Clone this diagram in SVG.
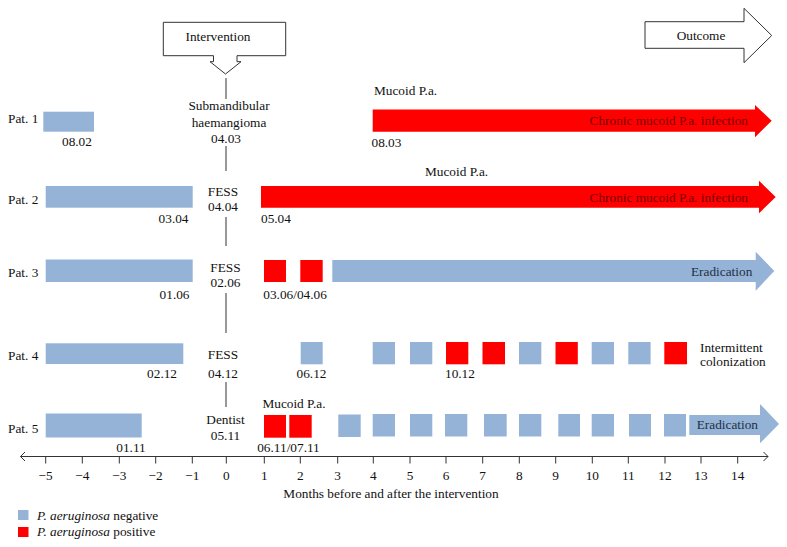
<svg xmlns="http://www.w3.org/2000/svg" width="787" height="547" viewBox="0 0 787 547">
<style>
text{font-family:"Liberation Serif","Times New Roman",serif;font-size:13.3px;fill:#111}
.m{text-anchor:middle}
.e{text-anchor:end}
.neg{fill:#95B3D7}
.pos{fill:#FF0000}
.ln{stroke:#333;stroke-width:1;fill:none}
.out{fill:#fff;stroke:#333;stroke-width:1}
.cr{fill:#7A0000}
.er{fill:#1F2F45}
</style>
<rect width="787" height="547" fill="#fff"/>

<g id="intervention">
<path class="out" d="M163.3,22.3 H285.7 V55.7 H237 V61.7 H241 L225.5,74 L210,61.7 H213.5 V55.7 H163.3 Z"/>
<text class="m" x="218" y="41">Intervention</text>
</g>

<g id="outcome">
<path class="out" d="M645,21.7 H744 V8.3 L771.7,35.5 L744,62.7 V48.3 H645 Z"/>
<text class="m" x="701" y="40">Outcome</text>
</g>

<g id="connectors">
<line class="ln" x1="226" y1="78" x2="226" y2="99"/>
<line class="ln" x1="226" y1="146" x2="226" y2="171"/>
<line class="ln" x1="226" y1="217" x2="226" y2="246"/>
<line class="ln" x1="226" y1="293" x2="226" y2="333"/>
<line class="ln" x1="226" y1="382" x2="226" y2="407"/>
</g>

<g id="pat1">
<text x="8" y="123">Pat. 1</text>
<rect class="neg" x="43.3" y="111.7" width="50.7" height="20"/>
<text x="62" y="146">08.02</text>
<text class="m" x="229" y="110">Submandibular</text>
<text class="m" x="229" y="127">haemangioma</text>
<text class="m" x="226" y="143">04.03</text>
<text x="374" y="95">Mucoid P.a.</text>
<path class="pos" d="M372.7,109.5 H755 V105 L771.7,120.7 L755,137.3 V131.7 H372.7 Z"/>
<text class="e cr" x="748" y="125">Chronic mucoid P.a. infection</text>
<text x="371.5" y="147">08.03</text>
</g>

<g id="pat2">
<text x="8" y="204">Pat. 2</text>
<rect class="neg" x="45.7" y="186" width="147" height="21.7"/>
<text class="e" x="188.5" y="223">03.04</text>
<text class="m" x="223" y="196">FESS</text>
<text class="m" x="223" y="211">04.04</text>
<text x="425" y="176">Mucoid P.a.</text>
<path class="pos" d="M261,186 H759 V180.7 L775.7,197 L759,213.3 V207.7 H261 Z"/>
<text class="e cr" x="748" y="202">Chronic mucoid P.a. infection</text>
<text x="261" y="223">05.04</text>
</g>

<g id="pat3">
<text x="8" y="277">Pat. 3</text>
<rect class="neg" x="45.7" y="259.5" width="147" height="22.5"/>
<text class="e" x="189.5" y="299">01.06</text>
<text class="m" x="225.5" y="272">FESS</text>
<text class="m" x="225.5" y="287">02.06</text>
<rect class="pos" x="264" y="260" width="22" height="22"/>
<rect class="pos" x="300.3" y="260" width="22.4" height="22"/>
<text x="263.3" y="299">03.06/04.06</text>
<path class="neg" d="M332.3,260 H755.7 V251.7 L774.3,271 L755.7,290.7 V282 H332.3 Z"/>
<text class="e er" x="752.3" y="276">Eradication</text>
</g>

<g id="pat4">
<text x="8" y="360">Pat. 4</text>
<rect class="neg" x="45.7" y="343.3" width="137.6" height="20.7"/>
<text class="e" x="177" y="378">02.12</text>
<text class="m" x="223" y="358.5">FESS</text>
<text class="m" x="223" y="378">04.12</text>
<rect class="neg" x="300.7" y="342" width="22" height="22.3"/>
<text class="m" x="311.5" y="378">06.12</text>
<rect class="neg" x="372.7" y="342" width="22.3" height="22.3"/>
<rect class="neg" x="410" y="342" width="22.3" height="22.3"/>
<rect class="pos" x="446" y="342" width="22.3" height="22.3"/>
<rect class="pos" x="482.5" y="342" width="22.5" height="22.3"/>
<rect class="neg" x="519" y="342" width="22.3" height="22.3"/>
<rect class="pos" x="555.5" y="342" width="22.3" height="22.3"/>
<rect class="neg" x="591.7" y="342" width="22.3" height="22.3"/>
<rect class="neg" x="628.3" y="342" width="22.3" height="22.3"/>
<rect class="pos" x="664.3" y="342" width="22.7" height="22.3"/>
<text x="445" y="378">10.12</text>
<text x="700" y="351.5">Intermittent</text>
<text x="700" y="366">colonization</text>
</g>

<g id="pat5">
<text x="8" y="433">Pat. 5</text>
<rect class="neg" x="45.7" y="413.5" width="96" height="24"/>
<text class="m" x="131" y="452">01.11</text>
<text class="m" x="225.5" y="424">Dentist</text>
<text class="m" x="225.5" y="440">05.11</text>
<text class="m" x="294" y="408">Mucoid P.a.</text>
<rect class="pos" x="264" y="415" width="22" height="22.7"/>
<rect class="pos" x="289.3" y="415" width="22.4" height="22.7"/>
<text class="m" x="288.5" y="452">06.11/07.11</text>
<rect class="neg" x="338.3" y="414.5" width="22.4" height="22.5"/>
<rect class="neg" x="372.7" y="414" width="22.3" height="22.5"/>
<rect class="neg" x="410" y="414" width="22.3" height="22.5"/>
<rect class="neg" x="445" y="414" width="22.3" height="22.5"/>
<rect class="neg" x="484" y="414" width="22.7" height="22.5"/>
<rect class="neg" x="519" y="414" width="22.3" height="22.5"/>
<rect class="neg" x="558.3" y="414" width="21.7" height="22.5"/>
<rect class="neg" x="591.7" y="414" width="22.3" height="22.5"/>
<rect class="neg" x="629" y="414" width="22" height="22.5"/>
<rect class="neg" x="664" y="414" width="22" height="22.5"/>
<path class="neg" d="M689.3,415 H760 V404 L779,424 L760,443.3 V435 H689.3 Z"/>
<text class="er" x="696.7" y="429">Eradication</text>
</g>

<g id="axis">
<line class="ln" x1="20.5" y1="456.5" x2="768" y2="456.5"/>
<polyline class="ln" points="25,452 20.5,456.5 25,461"/>
<polyline class="ln" points="763.5,452 768,456.5 763.5,461"/>
<g class="ln">
<line x1="45.7" y1="456.5" x2="45.7" y2="463.5"/>
<line x1="82.3" y1="456.5" x2="82.3" y2="463.5"/>
<line x1="119.3" y1="456.5" x2="119.3" y2="463.5"/>
<line x1="155.7" y1="456.5" x2="155.7" y2="463.5"/>
<line x1="192.3" y1="456.5" x2="192.3" y2="463.5"/>
<line x1="226.3" y1="456.5" x2="226.3" y2="463.5"/>
<line x1="264.3" y1="456.5" x2="264.3" y2="463.5"/>
<line x1="300.3" y1="456.5" x2="300.3" y2="463.5"/>
<line x1="337.7" y1="456.5" x2="337.7" y2="463.5"/>
<line x1="373.3" y1="456.5" x2="373.3" y2="463.5"/>
<line x1="410" y1="456.5" x2="410" y2="463.5"/>
<line x1="446" y1="456.5" x2="446" y2="463.5"/>
<line x1="482.7" y1="456.5" x2="482.7" y2="463.5"/>
<line x1="519.3" y1="456.5" x2="519.3" y2="463.5"/>
<line x1="555.7" y1="456.5" x2="555.7" y2="463.5"/>
<line x1="592.3" y1="456.5" x2="592.3" y2="463.5"/>
<line x1="628.3" y1="456.5" x2="628.3" y2="463.5"/>
<line x1="665" y1="456.5" x2="665" y2="463.5"/>
<line x1="701" y1="456.5" x2="701" y2="463.5"/>
<line x1="737.7" y1="456.5" x2="737.7" y2="463.5"/>
</g>
<g class="m">
<text x="45.7" y="480">−5</text>
<text x="82.3" y="480">−4</text>
<text x="119.3" y="480">−3</text>
<text x="155.7" y="480">−2</text>
<text x="192.3" y="480">−1</text>
<text x="226.3" y="480">0</text>
<text x="264.3" y="480">1</text>
<text x="300.3" y="480">2</text>
<text x="337.7" y="480">3</text>
<text x="373.3" y="480">4</text>
<text x="410" y="480">5</text>
<text x="446" y="480">6</text>
<text x="482.7" y="480">7</text>
<text x="519.3" y="480">8</text>
<text x="555.7" y="480">9</text>
<text x="592.3" y="480">10</text>
<text x="628.3" y="480">11</text>
<text x="665" y="480">12</text>
<text x="701" y="480">13</text>
<text x="737.7" y="480">14</text>
</g>
<text class="m" x="391" y="498">Months before and after the intervention</text>
</g>

<g id="legend">
<rect class="neg" x="18" y="510" width="10.5" height="10"/>
<text x="37" y="519.5"><tspan font-style="italic">P. aeruginosa</tspan> negative</text>
<rect class="pos" x="18" y="527" width="10.5" height="10"/>
<text x="37" y="536"><tspan font-style="italic">P. aeruginosa</tspan> positive</text>
</g>
</svg>
